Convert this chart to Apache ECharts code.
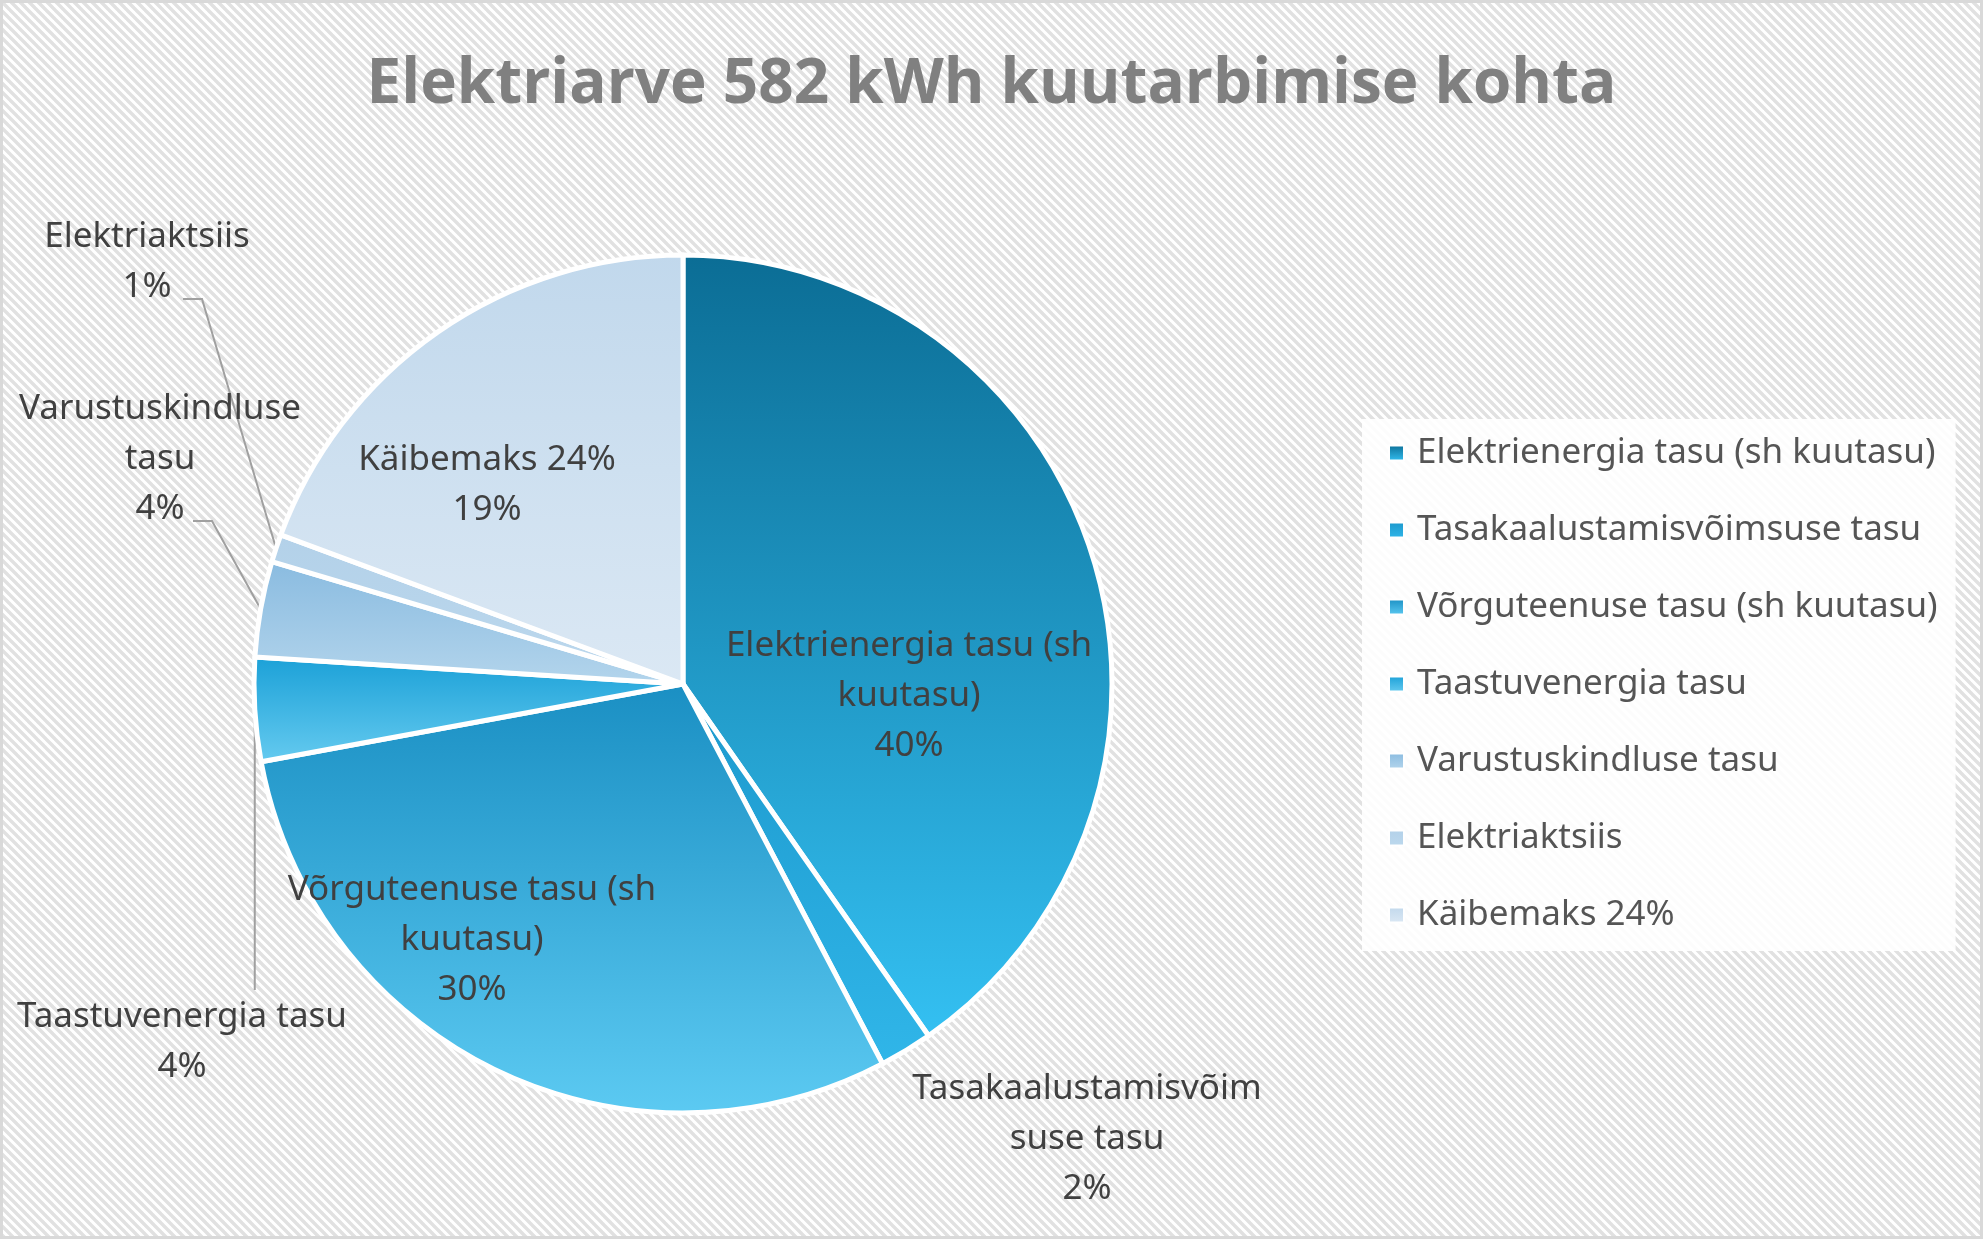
<!DOCTYPE html>
<html>
<head>
<meta charset="utf-8">
<script src="https://cdn.jsdelivr.net/npm/echarts@6/dist/echarts.min.js"></script>
<style>
  html, body { margin: 0; padding: 0; background: #fff; }
  #chart { width: 1983px; height: 1239px; }
</style>
</head>
<body>
<div id="chart"></div>
<script>
// ---- Data ----
const categories = [
  'Elektrienergia tasu (sh kuutasu)',
  'Tasakaalustamisvõimsuse tasu',
  'Võrguteenuse tasu (sh kuutasu)',
  'Taastuvenergia tasu',
  'Varustuskindluse tasu',
  'Elektriaktsiis',
  'Käibemaks 24%'
];
// estimated shares of the bill (percent)
const values = [40.3, 2.0, 29.8, 3.9, 3.6, 1.05, 19.35];
// wrapped label texts as shown in the chart
const labelNames = [
  'Elektrienergia tasu (sh\nkuutasu)',
  'Tasakaalustamisvõim\nsuse tasu',
  'Võrguteenuse tasu (sh\nkuutasu)',
  'Taastuvenergia tasu',
  'Varustuskindluse\ntasu',
  'Elektriaktsiis',
  'Käibemaks 24%'
];
const titleText = 'Elektriarve 582 kWh kuutarbimise kohta';

// ---- Styles ----
const gradientStops = [
  ['#0b6d95', '#34c0f2'],
  ['#1c98cc', '#30b6e9'],
  ['#1a8fc3', '#5ccaf2'],
  ['#1aa0d7', '#66cbf0'],
  ['#89bbe0', '#b4d5ec'],
  ['#b3d1e9', '#bcd8ed'],
  ['#c1d8ec', '#dbe8f4']
];
const insideIdx = [0, 2, 6];
// label anchor (center) positions in px
const labelAnchor = [
  [909, 696], [1087, 1139], [472, 940], [182, 1042], [160, 459], [147, 262], [487, 485]
];
// leader elbow / end points for outside labels
const leader = {
  3: { bottomTo: 990 },
  4: { h0: [193, 521], h1: [212, 521] },
  5: { h0: [183, 299], h1: [202, 299] }
};

function grad(i) {
  return new echarts.graphic.LinearGradient(0, 0, 0, 1, [
    { offset: 0, color: gradientStops[i][0] },
    { offset: 1, color: gradientStops[i][1] }
  ]);
}

// striped background pattern tile
const tile = document.createElement('canvas');
const TS = 9;
tile.width = TS; tile.height = TS;
const tctx = tile.getContext('2d');
tctx.fillStyle = '#ffffff';
tctx.fillRect(0, 0, TS, TS);
tctx.strokeStyle = '#e1e1e1';
tctx.lineWidth = 3.4;
for (let c = -TS; c <= TS; c += TS) {
  tctx.beginPath();
  tctx.moveTo(-1, c - 1);
  tctx.lineTo(TS + 1, TS + c + 1);
  tctx.stroke();
}

const chart = echarts.init(document.getElementById('chart'), null, { renderer: 'canvas' });

const seriesData = categories.map((name, i) => {
  const inside = insideIdx.indexOf(i) >= 0;
  return {
    name: name,
    value: values[i],
    itemStyle: { color: grad(i) },
    label: { position: inside ? 'inside' : 'outside' },
    labelLine: { show: !inside && i !== 1 }
  };
});

const option = {
  backgroundColor: '#ffffff',
  animation: false,
  graphic: [
    {
      type: 'rect', z: -10, silent: true,
      shape: { x: 0, y: 0, width: 1983, height: 1239 },
      style: { fill: { image: tile, repeat: 'repeat' } }
    },
    {
      type: 'rect', z: 100, silent: true,
      shape: { x: 1.5, y: 1.5, width: 1980, height: 1236 },
      style: { fill: 'none', stroke: '#d9d9d9', lineWidth: 3 }
    }
  ],
  title: {
    text: titleText,
    left: 'center',
    top: 49,
    textStyle: {
      fontFamily: 'Open Sans',
      fontWeight: 'bold',
      fontSize: 62,
      color: '#808080'
    }
  },
  legend: {
    orient: 'vertical',
    left: 1362,
    top: 419,
    padding: [14, 18, 16, 26],
    backgroundColor: 'rgba(255,255,255,0.9)',
    itemWidth: 15,
    itemHeight: 15,
    itemGap: 37,
    icon: 'rect',
    selectedMode: false,
    textStyle: {
      fontFamily: 'Noto Sans',
      fontSize: 35,
      lineHeight: 40,
      color: '#555555',
      padding: [0, 0, 0, 8]
    },
    data: categories
  },
  series: [{
    type: 'pie',
    center: [683, 684],
    radius: 429,
    startAngle: 90,
    clockwise: true,
    avoidLabelOverlap: false,
    itemStyle: { borderColor: '#ffffff', borderWidth: 5 },
    label: {
      show: true,
      fontFamily: 'Noto Sans',
      fontSize: 35,
      lineHeight: 50,
      color: '#404040',
      align: 'center',
      formatter: function (p) {
        return labelNames[p.dataIndex] + '\n' + Math.round(p.percent) + '%';
      }
    },
    labelLine: {
      lineStyle: { color: '#a0a0a0', width: 2 },
      length: 10, length2: 10
    },
    labelLayout: function (params) {
      const i = params.dataIndex;
      const a = labelAnchor[i];
      const res = { x: a[0], y: a[1], align: 'center', verticalAlign: 'middle' };
      const pts = params.labelLinePoints;
      if (pts && leader[i]) {
        const s = pts[0];
        if (i === 3) {
          res.labelLinePoints = [[s[0], s[1]], [s[0], leader[i].bottomTo], [s[0], leader[i].bottomTo]];
        } else {
          res.labelLinePoints = [leader[i].h0, leader[i].h1, [s[0], s[1]]];
        }
      }
      return res;
    },
    data: seriesData
  }]
};

chart.setOption(option);
</script>
</body>
</html>
